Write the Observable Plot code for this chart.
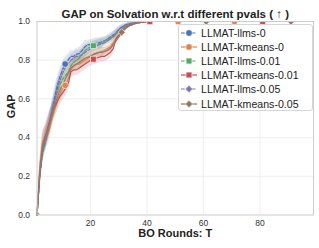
<!DOCTYPE html>
<html>
<head>
<meta charset="utf-8">
<script src="https://cdn.jsdelivr.net/npm/d3@7"></script>
<script src="https://cdn.jsdelivr.net/npm/@observablehq/plot@0.6"></script>
<style>
  html, body { margin: 0; padding: 0; background: #fff; }
  #wrap { position: relative; width: 319px; height: 248px; font-family: "Liberation Sans", Arial, sans-serif; }
  #legend { position: absolute; left: 178px; top: 24px; width: 135px; height: 87px; box-sizing: border-box;
            border: 1px solid #d6d6d6; border-radius: 3px; background: rgba(255,255,255,0.85); padding-top: 0px; }
  .row { height: 14.2px; display: flex; align-items: center; font-size: 10.6px; color: #222; white-space: nowrap; }
  .row svg { margin-left: 2px; margin-right: 4px; flex: none; }
</style>
</head>
<body>
<div id="wrap"><div id="legend"></div></div>
<script>
// ---- data ----
const title = "GAP on Solvation w.r.t different pvals ( \u2191 )";
const xLabel = "BO Rounds: T";
const yLabel = "GAP";
const names = ["LLMAT-llms-0","LLMAT-kmeans-0","LLMAT-llms-0.01","LLMAT-kmeans-0.01","LLMAT-llms-0.05","LLMAT-kmeans-0.05"];
const xTicks = [20, 40, 60, 80];
const yTicks = [0, 0.2, 0.4, 0.6, 0.8, 1.0];
const xs = [1,2,3,4,5,6,7,8,9,10,11,12,13,14,15,16,17,18,19,20,21,22,23,24,25,26,27,28,29,30,31,32,33,34,35,36,38,41,51,61,71,81,91,99];

const llms0 = [0,0.22,0.33,0.39,0.45,0.52,0.59,0.66,0.71,0.75, 0.78,0.80,0.82,0.82,0.83,0.835,0.85,0.87,0.88,0.88, 0.885,0.89,0.89,0.895,0.90,0.91,0.92,0.93,0.94,0.96, 0.97,0.98,0.985,0.99,0.99,0.995, 0.998,1,1,1,1,1,1,1];
const kmeans0 = [0,0.25,0.38,0.40,0.42,0.48,0.53,0.58,0.62,0.65, 0.67,0.70,0.75,0.77,0.78,0.78,0.79,0.80,0.81,0.82, 0.83,0.835,0.84,0.845,0.85,0.86,0.87,0.89,0.91,0.93, 0.95,0.97,0.98,0.985,0.99,0.995, 1,1,1,1,1,1,1,1];
const llms001 = [0,0.2,0.32,0.38,0.44,0.5,0.57,0.63,0.67,0.70, 0.72,0.74,0.77,0.79,0.80,0.81,0.83,0.85,0.86,0.87, 0.875,0.88,0.885,0.89,0.90,0.905,0.91,0.92,0.935,0.95, 0.96,0.97,0.98,0.985,0.99,0.995, 1,1,1,1,1,1,1,1];
const kmeans001 = [0,0.2,0.36,0.41,0.46,0.51,0.55,0.58,0.61,0.63, 0.65,0.67,0.74,0.75,0.75,0.76,0.77,0.78,0.79,0.80, 0.805,0.81,0.815,0.82,0.82,0.83,0.84,0.86,0.91,0.93, 0.945,0.96,0.975,0.98,0.985,0.99, 0.995,1,1,1,1,1,1,1];
const llms005 = [0,0.21,0.33,0.38,0.44,0.5,0.57,0.64,0.69,0.73, 0.76,0.78,0.80,0.81,0.82,0.82,0.83,0.84,0.85,0.86, 0.87,0.875,0.88,0.885,0.89,0.90,0.91,0.925,0.94,0.955, 0.965,0.975,0.98,0.985,0.99,0.995, 1,1,1,1,1,1,1,1];
const kmeans005 = [0,0.22,0.36,0.40,0.45,0.50,0.55,0.60,0.64,0.67, 0.70,0.73,0.76,0.77,0.78,0.79,0.80,0.81,0.815,0.82, 0.83,0.835,0.84,0.84,0.845,0.85,0.86,0.88,0.90,0.92, 0.944,0.96,0.97,0.98,0.985,0.99, 0.995,1,1,1,1,1,1,1];

// half-widths of the confidence bands
const errLlms = [0,0.04,0.05,0.05,0.05,0.05,0.05,0.045,0.04,0.04, 0.035,0.03,0.03,0.03,0.03,0.03,0.03,0.03,0.025,0.025, 0.025,0.025,0.025,0.025,0.02,0.02,0.02,0.02,0.02,0.015, 0.015,0.01,0.01,0.008,0.006,0.005, 0.002,0,0,0,0,0,0,0];
const errKmeans = [0,0.05,0.06,0.06,0.06,0.06,0.05,0.05,0.045,0.04, 0.04,0.035,0.03,0.03,0.03,0.03,0.03,0.03,0.025,0.025, 0.025,0.025,0.025,0.025,0.02,0.02,0.02,0.02,0.02,0.015, 0.015,0.01,0.01,0.008,0.006,0.005, 0.002,0,0,0,0,0,0,0];
const errKmeans001 = [0,0.05,0.06,0.06,0.06,0.05,0.05,0.05,0.045,0.04, 0.04,0.035,0.035,0.03,0.03,0.03,0.03,0.03,0.03,0.03, 0.03,0.03,0.03,0.03,0.03,0.03,0.03,0.03,0.025,0.02, 0.02,0.015,0.012,0.01,0.008,0.006, 0.003,0,0,0,0,0,0,0];

// rounds at which a marker is shown
const markLlms0 = [11];
const markKmeans0 = [11, 51, 71];
const markLlms001 = [21, 41];
const markKmeans001 = [21, 41, 81];
const markLlms005 = [];
const markKmeans005 = [1, 31, 61, 91];

// ---- styles ----
const palette = ["#4c72b0","#dd8452","#55a868","#c44e52","#8172b3","#937860"];
const symbols = ["circle","circle","square","square","diamond2","diamond2"];
const dashed = [true,false,true,false,true,false];

const valuesList = [llms0, kmeans0, llms001, kmeans001, llms005, kmeans005];
const errList = [errLlms, errKmeans, errLlms, errKmeans001, errLlms, errKmeans];
const markList = [markLlms0, markKmeans0, markLlms001, markKmeans001, markLlms005, markKmeans005];

const rows = names.flatMap((name, s) => xs.map((x, i) => ({
  series: name, x, y: valuesList[s][i],
  lo: Math.max(0, valuesList[s][i] - errList[s][i]),
  hi: Math.min(1, valuesList[s][i] + errList[s][i])
})));
const markerRows = names.flatMap((name, s) =>
  rows.filter(d => d.series === name && markList[s].includes(d.x)));

const lineMarks = names.map((name, s) => Plot.lineY(rows.filter(d => d.series === name), {
  x: "x", y: "y", stroke: palette[s], strokeWidth: 1.2,
  strokeDasharray: dashed[s] ? "3.7,1.6" : null
}));

const chart = Plot.plot({
  width: 319, height: 248,
  marginTop: 21, marginBottom: 33.5, marginLeft: 36.5, marginRight: 6,
  style: { fontFamily: "Liberation Sans, Arial, sans-serif", background: "#fff" },
  x: { domain: [1, 99] },
  y: { domain: [0, 1] },
  color: { domain: names, range: palette },
  symbol: { domain: names, range: symbols },
  marks: [
    Plot.gridX(xTicks, { stroke: "#ebebeb", strokeOpacity: 1, strokeWidth: 0.8 }),
    Plot.gridY(yTicks.filter(t => t > 0 && t < 1), { stroke: "#ebebeb", strokeOpacity: 1, strokeWidth: 0.8 }),
    Plot.areaY(rows, { x: "x", y1: "lo", y2: "hi", fill: "series", z: "series", fillOpacity: 0.18 }),
    ...lineMarks,
    Plot.dot(markerRows, { x: "x", y: "y", fill: "series", symbol: "series", r: 3.3, stroke: "white", strokeWidth: 0.6, clip: true }),
    Plot.frame({ stroke: "#cccccc", strokeWidth: 1 }),
    Plot.axisX(xTicks, { tickSize: 0, tickPadding: 5, fontSize: 8.5, fill: "#333", label: null }),
    Plot.axisY(yTicks, { tickSize: 0, tickPadding: 7, fontSize: 8.5, fill: "#333", tickFormat: d3.format(".1f"), label: null }),
    Plot.text([title], { frameAnchor: "top", dy: -12, fontSize: 11.5, fontWeight: "bold", fill: "#222" }),
    Plot.text([xLabel], { frameAnchor: "bottom", dy: 22, fontSize: 11, fontWeight: "bold", fill: "#222" }),
    Plot.text([yLabel], { frameAnchor: "left", dx: -26, rotate: -90, fontSize: 11, fontWeight: "bold", fill: "#222" })
  ]
});
document.getElementById("wrap").prepend(chart);

// ---- legend ----
const legend = document.getElementById("legend");
const symPath = { circle: d3.symbolCircle, square: d3.symbolSquare, diamond2: d3.symbolDiamond2 };
names.forEach((name, s) => {
  const row = document.createElement("div");
  row.className = "row";
  const dash = dashed[s] ? 'stroke-dasharray="3.7,1.6"' : "";
  const path = d3.symbol(symPath[symbols[s]], 34)();
  row.innerHTML = `<svg width="16" height="10"><line x1="0" x2="16" y1="5" y2="5" stroke="${palette[s]}" stroke-width="1.2" ${dash}/>` +
    `<path d="${path}" transform="translate(8,5)" fill="${palette[s]}" stroke="white" stroke-width="0.6"/></svg>` +
    `<span>${name}</span>`;
  legend.appendChild(row);
});
legend.style.paddingTop = "0.5px";
</script>
</body>
</html>
